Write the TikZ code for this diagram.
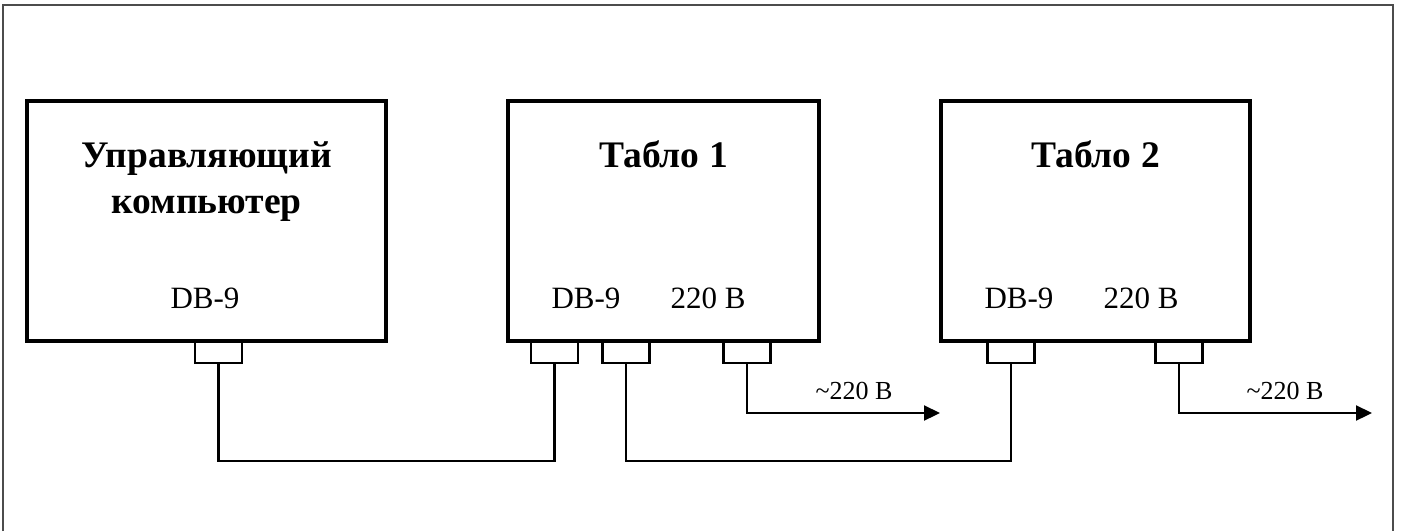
\documentclass[tikz,border=0pt]{standalone}
\usepackage{fontspec}
\setmainfont{Liberation Serif}
\usetikzlibrary{arrows.meta}
\begin{document}
\begin{tikzpicture}[x=1pt,y=-1pt,
  unitbox/.style={draw,line width=4pt,minimum width=#1,minimum height=240pt,inner sep=0pt,outer sep=0pt},
  connbox/.style={draw,line width=2.2pt,minimum width=47pt,minimum height=22pt,inner sep=0pt,outer sep=0pt},
  wire/.style={line width=2.2pt},
  titletxt/.style={font=\fontsize{37.5}{44}\selectfont\bfseries,anchor=base,inner sep=0pt,align=center},
  porttxt/.style={font=\fontsize{31}{36}\selectfont,anchor=base,inner sep=0pt},
  voltxt/.style={font=\fontsize{26}{30}\selectfont,anchor=base,inner sep=0pt},
  arr/.style={wire,-{Triangle[length=16pt,width=15pt]}}]
\useasboundingbox (0,0) rectangle (1402,531);
\draw[line width=2pt,color=black!70] (3,531) -- (3,5) -- (1393,5) -- (1393,531);
% boxes
\node[unitbox=359pt] (pc) at (206.5,221) {};
\node[unitbox=311pt] (t1) at (663.5,221) {};
\node[unitbox=309pt] (t2) at (1095.5,221) {};
% titles
\node[titletxt] (pct1) at (206.5,167) {Управляющий};
\node[titletxt] (pct2) at (206.5,213) {компьютер};
\node[titletxt] (t1t) at (663.5,167) {Табло 1};
\node[titletxt] (t2t) at (1095.5,167) {Табло 2};
% port labels
\node[porttxt] (pcdb) at (205,308) {DB-9};
\node[porttxt] (t1db) at (586,308) {DB-9};
\node[porttxt] (t1pw) at (708,308) {220 В};
\node[porttxt] (t2db) at (1019,308) {DB-9};
\node[porttxt] (t2pw) at (1141,308) {220 В};
% connectors
\node[connbox] (c0) at (218.5,352) {};
\node[connbox] (c1a) at (554.5,352) {};
\node[connbox] (c1b) at (626,352) {};
\node[connbox] (c1c) at (747,352) {};
\node[connbox] (c2a) at (1011,352) {};
\node[connbox] (c2c) at (1179,352) {};
% wires
\draw[wire] (c0.south) -- (c0.south |- 0,461) -- (c1a.south |- 0,461) -- (c1a.south);
\draw[wire] (c1b.south) -- (c1b.south |- 0,461) -- (c2a.south |- 0,461) -- (c2a.south);
\coordinate (p1) at (940,413);
\coordinate (p2) at (1372,413);
\draw[arr] (c1c.south) |- (p1);
\draw[arr] (c2c.south) |- (p2);
\node[voltxt] (v1) at (854,399) {\textasciitilde220 В};
\node[voltxt] (v2) at (1285,399) {\textasciitilde220 В};
\end{tikzpicture}
\end{document}
